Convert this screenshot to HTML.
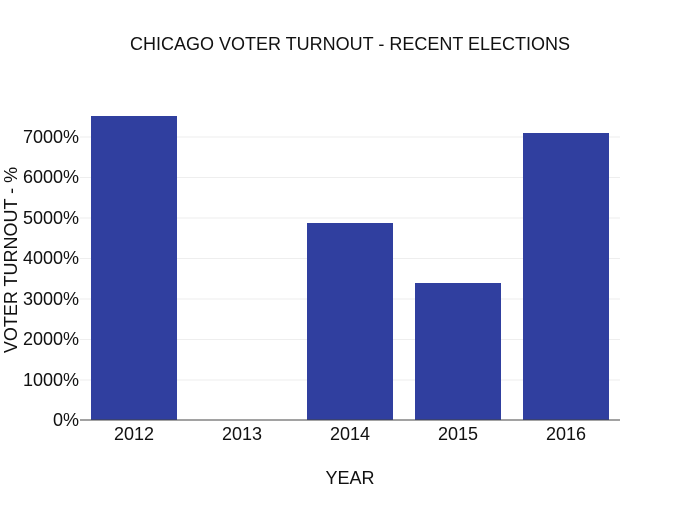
<!DOCTYPE html>
<html><head><meta charset="utf-8"><style>body{margin:0;background:#fff}</style></head>
<body>
<svg width="700" height="500" xmlns="http://www.w3.org/2000/svg" font-family="Liberation Sans, sans-serif" fill="#111">
<g stroke="#eee" stroke-width="1">
<line x1="80" x2="620" y1="380" y2="380"/>
<line x1="80" x2="620" y1="339.5" y2="339.5"/>
<line x1="80" x2="620" y1="299" y2="299"/>
<line x1="80" x2="620" y1="258.5" y2="258.5"/>
<line x1="80" x2="620" y1="218" y2="218"/>
<line x1="80" x2="620" y1="177.5" y2="177.5"/>
<line x1="80" x2="620" y1="137" y2="137"/>
</g>
<g fill="#303f9f">
<rect x="91" y="116" width="86" height="304"/>
<rect x="307" y="223" width="86" height="197"/>
<rect x="415" y="283" width="86" height="137"/>
<rect x="523" y="133" width="86" height="287"/>
</g>
<line x1="80" x2="620" y1="420" y2="420" stroke="#444" stroke-width="1"/>
<g font-size="18" text-anchor="end">
<text x="79" y="426">0%</text>
<text x="79" y="386">1000%</text>
<text x="79" y="345">2000%</text>
<text x="79" y="305">3000%</text>
<text x="79" y="264">4000%</text>
<text x="79" y="224">5000%</text>
<text x="79" y="183">6000%</text>
<text x="79" y="143">7000%</text>
</g>
<g font-size="18" text-anchor="middle">
<text x="134" y="440">2012</text>
<text x="242" y="440">2013</text>
<text x="350" y="440">2014</text>
<text x="458" y="440">2015</text>
<text x="566" y="440">2016</text>
<text x="350" y="484">YEAR</text>
<text x="350" y="50">CHICAGO VOTER TURNOUT - RECENT ELECTIONS</text>
<text transform="translate(17,260) rotate(-90)">VOTER TURNOUT - %</text>
</g>
</svg>
</body></html>
